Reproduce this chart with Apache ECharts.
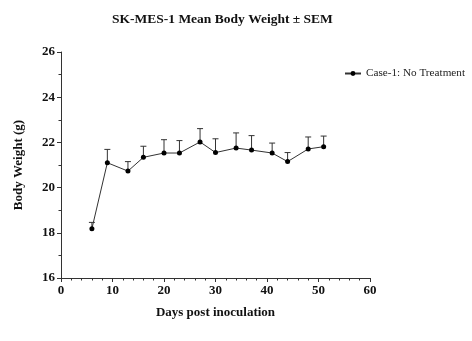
<!DOCTYPE html>
<html><head><meta charset="utf-8">
<script src="https://cdn.jsdelivr.net/npm/echarts@6/dist/echarts.min.js"></script>
<style>html,body{margin:0;padding:0;background:#fff}#c{width:472px;height:341px}</style>
</head><body><div id="c"></div>
<script>
var days = [6, 9, 13, 16, 20, 23, 27, 30, 34, 37, 41, 44, 48, 51];
var meanWeight = [18.18, 21.10, 20.73, 21.34, 21.53, 21.53, 22.02, 21.55, 21.75, 21.66, 21.53, 21.15, 21.71, 21.81];
var sem = [0.28, 0.59, 0.42, 0.49, 0.59, 0.55, 0.59, 0.61, 0.67, 0.64, 0.44, 0.40, 0.53, 0.47];
var xTicks = [0, 10, 20, 30, 40, 50, 60];
var yTicks = [16, 18, 20, 22, 24, 26];
var seriesName = 'Case-1: No Treatment';

var serif = '"Liberation Serif", "DejaVu Serif", serif';
var chart = echarts.init(document.getElementById('c'), null, {renderer: 'canvas'});
var lineData = days.map(function (d, i) { return [d, meanWeight[i]]; });
var errData = days.map(function (d, i) { return [d, meanWeight[i], meanWeight[i] + sem[i]]; });
chart.setOption({
  animation: false,
  backgroundColor: '#fff',
  title: {
    text: 'SK-MES-1 Mean Body Weight \u00b1 SEM',
    left: 107, top: 8,
    textStyle: {fontFamily: serif, fontWeight: 'bold', fontSize: 13.5, color: '#111'}
  },
  legend: {
    data: [seriesName], right: 2, top: 63,
    itemWidth: 16, itemHeight: 6, itemGap: 4,
    textStyle: {fontFamily: serif, fontSize: 11.2, color: '#222'}
  },
  grid: {left: 61, right: 102, top: 52, bottom: 63},
  xAxis: {
    type: 'value', min: xTicks[0], max: xTicks[xTicks.length - 1], interval: 10,
    name: 'Days post inoculation', nameLocation: 'middle', nameGap: 28,
    nameTextStyle: {fontFamily: serif, fontWeight: 'bold', fontSize: 13, color: '#111'},
    axisLine: {lineStyle: {color: '#333', width: 1}},
    axisTick: {show: true, length: 4, lineStyle: {color: '#333'}},
    minorTick: {show: true, splitNumber: 5, length: 2.5, lineStyle: {color: '#333'}},
    splitLine: {show: false},
    axisLabel: {fontFamily: serif, fontWeight: 'bold', fontSize: 13, color: '#111', margin: 6}
  },
  yAxis: {
    type: 'value', min: yTicks[0], max: yTicks[yTicks.length - 1], interval: 2,
    name: 'Body Weight (g)', nameLocation: 'middle', nameGap: 36, nameRotate: 90,
    nameTextStyle: {fontFamily: serif, fontWeight: 'bold', fontSize: 13, color: '#111'},
    axisLine: {show: true, lineStyle: {color: '#333', width: 1}},
    axisTick: {show: true, length: 4, lineStyle: {color: '#333'}},
    minorTick: {show: true, splitNumber: 2, length: 2.5, lineStyle: {color: '#333'}},
    splitLine: {show: false},
    axisLabel: {fontFamily: serif, fontWeight: 'bold', fontSize: 13, color: '#111', margin: 6}
  },
  series: [
    {
      type: 'custom', name: 'err', silent: true, z: 1,
      data: errData,
      renderItem: function (params, api) {
        var x = api.value(0);
        var p0 = api.coord([x, api.value(1)]);
        var p1 = api.coord([x, api.value(2)]);
        var cw = 3;
        return {
          type: 'group',
          children: [
            {type: 'line', shape: {x1: p0[0], y1: p0[1], x2: p1[0], y2: p1[1]}, style: {stroke: '#333', lineWidth: 1}},
            {type: 'line', shape: {x1: p1[0] - cw, y1: p1[1], x2: p1[0] + cw, y2: p1[1]}, style: {stroke: '#333', lineWidth: 1}}
          ]
        };
      }
    },
    {
      type: 'line', name: seriesName, z: 2,
      data: lineData,
      symbol: 'circle', symbolSize: 5,
      lineStyle: {color: '#333', width: 1},
      itemStyle: {color: '#000'}
    }
  ]
});
</script></body></html>
